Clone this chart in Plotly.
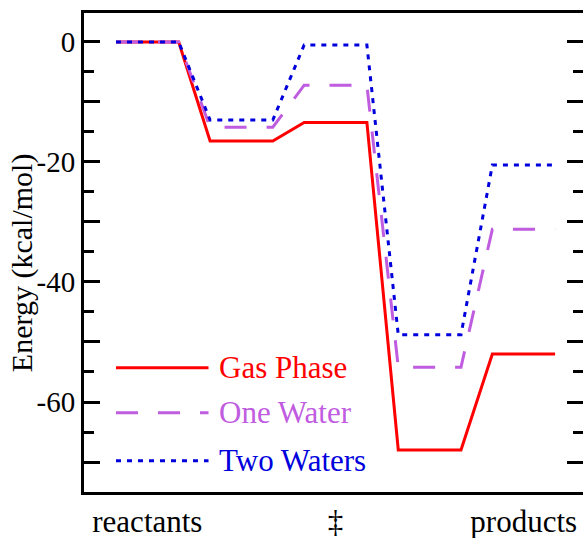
import plotly.graph_objects as go

# Reaction coordinate: each stationary point is a flat level two units wide,
# joined to the next by a one-unit connector.
stage_x = [0, 2, 3, 5, 6, 8, 9, 11, 12, 14]

gas_phase = [0.0, 0.0, -16.5, -16.5, -13.4, -13.4, -68.0, -68.0, -52.0, -52.0]
one_water = [0.0, 0.0, -14.2, -14.2, -7.2, -7.2, -54.2, -54.2, -31.2, -31.2]
two_waters = [0.0, 0.0, -13.0, -13.0, -0.5, -0.5, -48.8, -48.8, -20.5, -20.5]

series_names = ["Gas Phase", "One Water", "Two Waters"]
series_values = [gas_phase, one_water, two_waters]
series_colors = ["#ff0000", "#bf5cdf", "#0000dd"]
series_dashes = ["solid", "22px,20px", "5px,6px"]

stage_ticks = [1, 7, 13]
stage_labels = ["reactants", "\u2021", "products"]

energy_ticks = [0, -10, -20, -30, -40, -50, -60, -70]
energy_labels = ["0", "", "-20", "", "-40", "", "-60", ""]

FONT = "Liberation Serif, Times New Roman, serif"

fig = go.Figure()
for name, vals, col, dash in zip(series_names, series_values, series_colors, series_dashes):
    fig.add_trace(go.Scatter(
        x=stage_x, y=vals, mode="lines", name=name,
        line=dict(color=col, width=3, dash=dash),
        showlegend=False,
    ))

# Hand-built legend inside the plot: sample line + coloured label
legend_y = [-54.3, -61.8, -69.8]
for name, col, dash, ly in zip(series_names, series_colors, series_dashes, legend_y):
    fig.add_shape(type="line", xref="x", yref="y", x0=0, x1=2.95, y0=ly, y1=ly,
                  line=dict(color=col, width=3, dash=dash))
    fig.add_annotation(x=3.22, y=ly, xref="x", yref="y", text=name, showarrow=False,
                       xanchor="left", yanchor="middle",
                       font=dict(family=FONT, size=31, color=col))

# Vertical axis title
fig.add_annotation(x=-0.124, y=0.478, xref="paper", yref="paper",
                   text="Energy (kcal/mol)", textangle=-90, showarrow=False,
                   xanchor="center", yanchor="middle",
                   font=dict(family=FONT, size=30, color="black"))

# Dummy trace that carries the right-hand tick axis
fig.add_trace(go.Scatter(x=[None], y=[None], yaxis="y2", showlegend=False))

y_range = [-75, 4.83]
tick_style = dict(ticks="inside", ticklen=16, tickwidth=2.5, tickcolor="black")
minor_style = dict(ticks="inside", ticklen=10, tickwidth=2.5, tickcolor="black",
                   dtick=5, tick0=0)

fig.update_layout(
    width=583, height=538,
    margin=dict(l=84, r=0, t=13, b=46, autoexpand=False),
    plot_bgcolor="white", paper_bgcolor="white",
    font=dict(family=FONT, color="black"),
    xaxis=dict(
        range=[-1.02, 14.89], showgrid=False, zeroline=False,
        showline=True, linecolor="black", linewidth=3, mirror=True,
        tickmode="array", tickvals=stage_ticks, ticktext=stage_labels,
        ticks="", tickfont=dict(family=FONT, size=31, color="black"),
    ),
    yaxis=dict(
        range=y_range, showgrid=False, zeroline=False,
        showline=True, linecolor="black", linewidth=3,
        tickmode="array", tickvals=energy_ticks, ticktext=energy_labels,
        tickfont=dict(family=FONT, size=29, color="black"),
        minor=minor_style,
        **tick_style,
    ),
    yaxis2=dict(
        range=y_range, overlaying="y", side="right", showgrid=False, zeroline=False,
        showline=False, tickmode="array", tickvals=energy_ticks,
        showticklabels=False, minor=minor_style, **tick_style,
    ),
)

fig.write_html("out.html")
